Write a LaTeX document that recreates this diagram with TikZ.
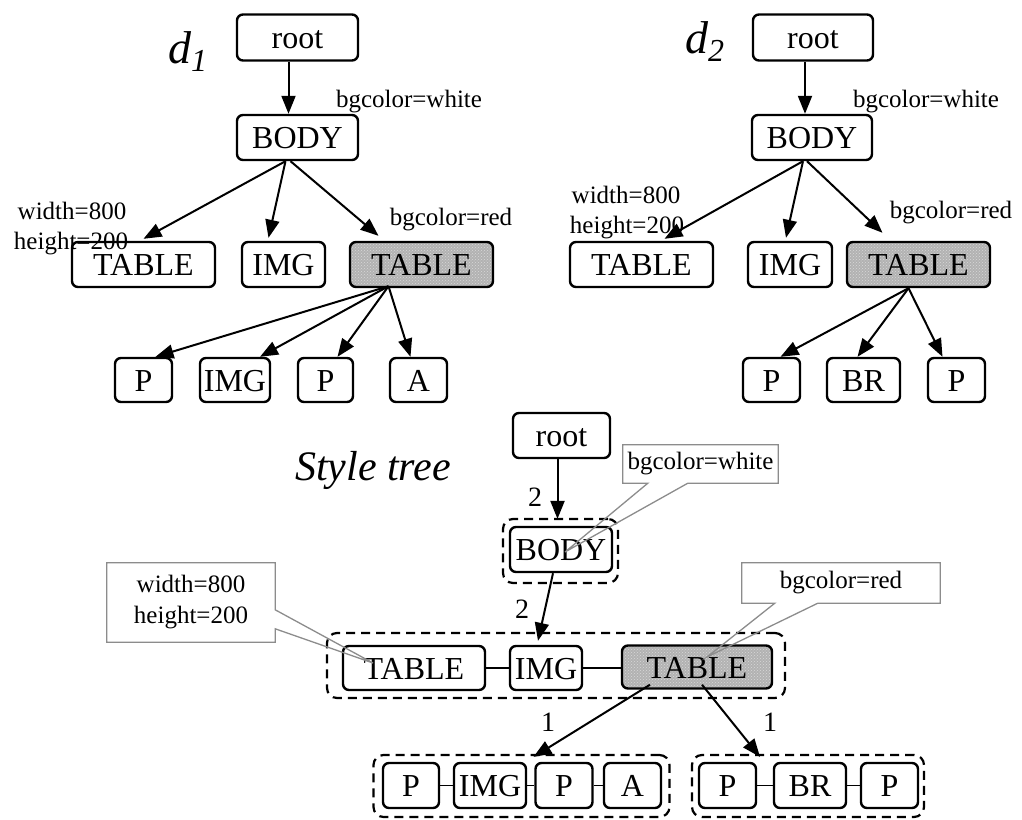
\documentclass[tikz,border=0pt]{standalone}
\usepackage{fontspec}
\setmainfont{Liberation Serif}
\usetikzlibrary{arrows.meta,patterns}
\begin{document}
\begin{tikzpicture}[x=1pt,y=-1pt,
  tn/.style={draw, line width=2.4pt, rounded corners=6pt, inner sep=0pt, fill=white,
    font=\fontsize{32}{32}\selectfont, text height=22pt, text depth=0pt},
  shaded/.style={fill=none, preaction={fill=black!30}, pattern=crosshatch dots, pattern color=white!85!black},
  lab/.style={inner sep=0pt, font=\fontsize{25}{25}\selectfont, text height=18pt, text depth=6pt},
  num/.style={inner sep=0pt, font=\fontsize{28}{28}\selectfont, text height=19pt, text depth=0pt},
  arr/.style={line width=2pt, -{Triangle[length=18pt,width=14pt]}},
  lnk/.style={line width=1.8pt},
  grp/.style={draw, dash pattern=on 9pt off 6pt, line width=2.2pt, rounded corners=10pt, inner sep=0pt},
  cbox/.style={inner sep=0pt, font=\fontsize{25}{31}\selectfont, align=center},
  cline/.style={draw=black!45, line width=1.3pt, line join=miter}
]
\useasboundingbox (0,0) rectangle (1022,819);

% ---------- d1 ----------
\node[anchor=base west, inner sep=0pt] (d1) at (168,63)
  {\fontsize{46}{46}\selectfont\itshape d\raisebox{-8pt}{\fontsize{32}{32}\selectfont\itshape 1}};
\node[tn, minimum width=121pt, minimum height=46pt] (r1) at (297.5,37.5) {root};
\node[tn, minimum width=121pt, minimum height=45pt] (b1) at (297.5,137.5) {BODY};
\node[tn, minimum width=143pt, minimum height=45pt] (t1a) at (143.5,264.5) {TABLE};
\node[tn, minimum width=83pt, minimum height=45pt] (i1) at (283.5,264.5) {IMG};
\node[tn, shaded, minimum width=143pt, minimum height=45pt] (t1b) at (421.5,264.5) {TABLE};
\node[tn, minimum width=57pt, minimum height=44pt] (p1a) at (143.5,380) {P};
\node[tn, minimum width=70pt, minimum height=44pt] (i1b) at (235,380) {IMG};
\node[tn, minimum width=55pt, minimum height=44pt] (p1b) at (325.5,380) {P};
\node[tn, minimum width=57pt, minimum height=44pt] (a1) at (418.5,380) {A};
\node[lab] (w1) at (409,101) {bgcolor=white};
\node[lab] (s1a) at (72,213) {width=800};
\node[lab] (s1b) at (71,243) {height=200};
\node[lab] (c1) at (451,219) {bgcolor=red};

\draw[arr] ([xshift=-9pt]r1.south) -- ([xshift=-9pt]b1.north);
\draw[arr] ([xshift=-12pt]b1.south) -- ([yshift=2pt]t1a.north);
\draw[arr] ([xshift=-12pt]b1.south) -- ([xshift=-15pt,yshift=3pt]i1.north);
\draw[arr] ([xshift=-7pt]b1.south) -- ([xshift=-43pt,yshift=5pt]t1b.north);
\draw[arr] ([xshift=-33pt,yshift=2pt]t1b.south) -- ([xshift=12pt]p1a.north);
\draw[arr] ([xshift=-33pt,yshift=2pt]t1b.south) -- ([xshift=25pt]i1b.north);
\draw[arr] ([xshift=-33pt,yshift=2pt]t1b.south) -- ([xshift=12pt]p1b.north);
\draw[arr] ([xshift=-33pt,yshift=2pt]t1b.south) -- ([xshift=-8pt]a1.north);

% ---------- d2 ----------
\node[anchor=base west, inner sep=0pt] (d2) at (685,53)
  {\fontsize{46}{46}\selectfont\itshape d\raisebox{-8pt}{\fontsize{32}{32}\selectfont 2}};
\node[tn, minimum width=120pt, minimum height=46pt] (r2) at (813,37.5) {root};
\node[tn, minimum width=120pt, minimum height=45pt] (b2) at (812,137.5) {BODY};
\node[tn, minimum width=143pt, minimum height=45pt] (t2a) at (641.5,264.5) {TABLE};
\node[tn, minimum width=84pt, minimum height=45pt] (i2) at (790,264.5) {IMG};
\node[tn, shaded, minimum width=143pt, minimum height=45pt] (t2b) at (918.5,264.5) {TABLE};
\node[tn, minimum width=57pt, minimum height=44pt] (p2a) at (771.5,380) {P};
\node[tn, minimum width=73pt, minimum height=44pt] (br2) at (863.5,380) {BR};
\node[tn, minimum width=57pt, minimum height=44pt] (p2b) at (956.5,380) {P};
\node[lab] (w2) at (926,101) {bgcolor=white};
\node[lab] (s2a) at (626,197) {width=800};
\node[lab] (s2b) at (627,227) {height=200};
\node[lab] (c2) at (951,212) {bgcolor=red};

\draw[arr] ([xshift=-8pt]r2.south) -- ([xshift=-7pt]b2.north);
\draw[arr] ([xshift=-9pt]b2.south) -- ([xshift=23pt,yshift=2pt]t2a.north);
\draw[arr] ([xshift=-9pt]b2.south) -- ([xshift=-4pt,yshift=3pt]i2.north);
\draw[arr] ([xshift=-5pt]b2.south) -- ([xshift=-36pt,yshift=8pt]t2b.north);
\draw[arr] ([xshift=-10pt]t2b.south) -- ([xshift=9pt]p2a.north);
\draw[arr] ([xshift=-10pt]t2b.south) -- ([xshift=-6pt]br2.north);
\draw[arr] ([xshift=-10pt]t2b.south) -- ([xshift=-14pt]p2b.north);

% ---------- Style tree ----------
\node[anchor=base, inner sep=0pt, font=\fontsize{42}{42}\selectfont\itshape] (st) at (373,480) {Style tree};
\node[tn, minimum width=97pt, minimum height=45pt] (r3) at (561.5,435.5) {root};
\node[grp, minimum width=115pt, minimum height=64pt] (g1) at (560.5,551) {};
\node[tn, minimum width=102pt, minimum height=45pt] (b3) at (561,549.5) {BODY};

\node[grp, minimum width=458pt, minimum height=65pt] (g2) at (556,665.5) {};
\node[tn, minimum width=142pt, minimum height=44pt] (t3a) at (414,668) {TABLE};
\node[tn, minimum width=72pt, minimum height=44pt] (i3) at (546,668) {IMG};
\node[tn, shaded, minimum width=150pt, minimum height=43pt] (t3b) at (697,667) {TABLE};
\draw[lnk] (t3a) -- (i3);
\draw[lnk] (i3) -- (i3 -| t3b.west);

\node[grp, minimum width=296pt, minimum height=62pt] (g3) at (521.5,786) {};
\node[tn, minimum width=56pt, minimum height=45pt] (p3a) at (411,785.5) {P};
\node[tn, minimum width=72pt, minimum height=45pt] (i3b) at (490,785.5) {IMG};
\node[tn, minimum width=57pt, minimum height=45pt] (p3b) at (564,785.5) {P};
\node[tn, minimum width=57pt, minimum height=45pt] (a3) at (632.5,785.5) {A};
\draw[lnk] (p3a) -- (i3b);
\draw[lnk] (i3b) -- (p3b);
\draw[lnk] (p3b) -- (a3);

\node[grp, minimum width=232pt, minimum height=62pt] (g4) at (808,786) {};
\node[tn, minimum width=57pt, minimum height=45pt] (p3c) at (727.5,785.5) {P};
\node[tn, minimum width=72pt, minimum height=45pt] (br3) at (810,785.5) {BR};
\node[tn, minimum width=57pt, minimum height=45pt] (p3d) at (889.5,785.5) {P};
\draw[lnk] (p3c) -- (br3);
\draw[lnk] (br3) -- (p3d);

\draw[arr] ([xshift=-4pt]r3.south) -- ([xshift=-3pt,yshift=-1pt]g1.north);
\node[num] (n1) at (535,497) {2};
\draw[arr] ([xshift=-8pt]b3.south) -- ([xshift=-8pt,yshift=4pt]i3.north);
\node[num] (n2) at (522,609) {2};
\draw[arr] ([xshift=-47pt,yshift=5pt]t3b.south) -- ([xshift=12pt,yshift=-3pt]g3.north);
\draw[arr] ([xshift=5pt,yshift=5pt]t3b.south) -- ([xshift=-48pt,yshift=-3pt]g4.north);
\node[num] (n3) at (548,722) {1};
\node[num] (n4) at (770,722) {1};

% ---------- callouts ----------
\node[cbox, minimum width=155pt, minimum height=38pt] (cw) at (700.5,464) {bgcolor=white};
\coordinate (cwt) at (565,552);
\draw[cline] (cw.south west) -- (cw.north west) -- (cw.north east) -- (cw.south east)
  -- ([xshift=65pt]cw.south west) -- (cwt) -- ([xshift=25pt]cw.south west) -- cycle;

\node[cbox, minimum width=168pt, minimum height=79pt] (cwh) at (191,602.5) {width=800\\height=200};
\coordinate (cwht) at (373,663);
\draw[cline] (cwh.north east) -- (cwh.north west) -- (cwh.south west) -- (cwh.south east)
  -- ([yshift=-66pt]cwh.north east) -- (cwht) -- ([yshift=-47pt]cwh.north east) -- cycle;

\node[cbox, minimum width=198pt, minimum height=40pt] (cr) at (841,583) {bgcolor=red};
\coordinate (crt) at (707,657);
\draw[cline] (cr.south west) -- (cr.north west) -- (cr.north east) -- (cr.south east)
  -- ([xshift=76pt]cr.south west) -- (crt) -- ([xshift=33pt]cr.south west) -- cycle;
\end{tikzpicture}
\end{document}
